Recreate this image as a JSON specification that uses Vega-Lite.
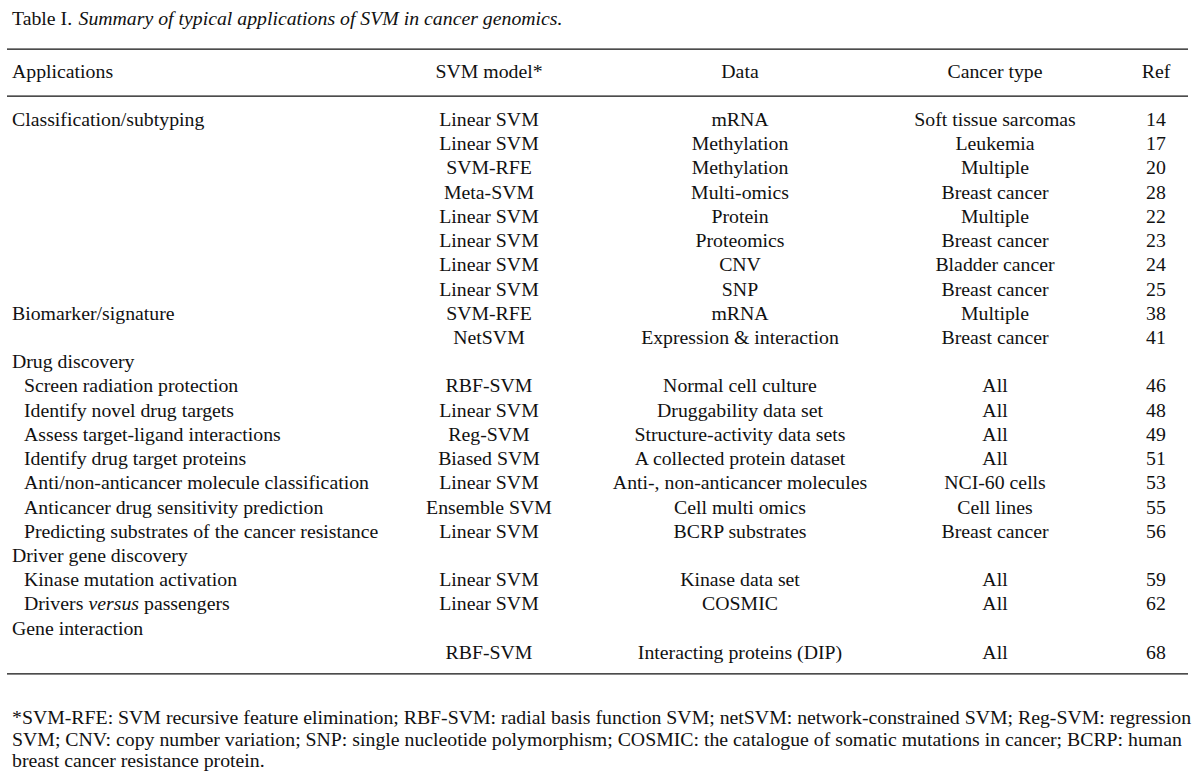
{
  "$schema": "https://vega.github.io/schema/vega-lite/v6.json",
  "width": 1200,
  "height": 774,
  "padding": 0,
  "autosize": "none",
  "background": "white",
  "config": {
    "view": {"stroke": null},
    "text": {"font": "Liberation Serif", "fontSize": 19.8, "color": "#111111", "baseline": "middle"}
  },
  "datasets": {
    "rows": [
      {"row": -2, "level": "main", "application": "Applications", "model": "SVM model*", "data": "Data", "cancer": "Cancer type", "ref": "Ref"},
      {"row": 0, "level": "main", "application": "Classification/subtyping", "model": "Linear SVM", "data": "mRNA", "cancer": "Soft tissue sarcomas", "ref": "14"},
      {"row": 1, "level": "main", "application": "", "model": "Linear SVM", "data": "Methylation", "cancer": "Leukemia", "ref": "17"},
      {"row": 2, "level": "main", "application": "", "model": "SVM-RFE", "data": "Methylation", "cancer": "Multiple", "ref": "20"},
      {"row": 3, "level": "main", "application": "", "model": "Meta-SVM", "data": "Multi-omics", "cancer": "Breast cancer", "ref": "28"},
      {"row": 4, "level": "main", "application": "", "model": "Linear SVM", "data": "Protein", "cancer": "Multiple", "ref": "22"},
      {"row": 5, "level": "main", "application": "", "model": "Linear SVM", "data": "Proteomics", "cancer": "Breast cancer", "ref": "23"},
      {"row": 6, "level": "main", "application": "", "model": "Linear SVM", "data": "CNV", "cancer": "Bladder cancer", "ref": "24"},
      {"row": 7, "level": "main", "application": "", "model": "Linear SVM", "data": "SNP", "cancer": "Breast cancer", "ref": "25"},
      {"row": 8, "level": "main", "application": "Biomarker/signature", "model": "SVM-RFE", "data": "mRNA", "cancer": "Multiple", "ref": "38"},
      {"row": 9, "level": "main", "application": "", "model": "NetSVM", "data": "Expression & interaction", "cancer": "Breast cancer", "ref": "41"},
      {"row": 10, "level": "main", "application": "Drug discovery", "model": "", "data": "", "cancer": "", "ref": ""},
      {"row": 11, "level": "sub", "application": "Screen radiation protection", "model": "RBF-SVM", "data": "Normal cell culture", "cancer": "All", "ref": "46"},
      {"row": 12, "level": "sub", "application": "Identify novel drug targets", "model": "Linear SVM", "data": "Druggability data set", "cancer": "All", "ref": "48"},
      {"row": 13, "level": "sub", "application": "Assess target-ligand interactions", "model": "Reg-SVM", "data": "Structure-activity data sets", "cancer": "All", "ref": "49"},
      {"row": 14, "level": "sub", "application": "Identify drug target proteins", "model": "Biased SVM", "data": "A collected protein dataset", "cancer": "All", "ref": "51"},
      {"row": 15, "level": "sub", "application": "Anti/non-anticancer molecule classification", "model": "Linear SVM", "data": "Anti-, non-anticancer molecules", "cancer": "NCI-60 cells", "ref": "53"},
      {"row": 16, "level": "sub", "application": "Anticancer drug sensitivity prediction", "model": "Ensemble SVM", "data": "Cell multi omics", "cancer": "Cell lines", "ref": "55"},
      {"row": 17, "level": "sub", "application": "Predicting substrates of the cancer resistance", "model": "Linear SVM", "data": "BCRP substrates", "cancer": "Breast cancer", "ref": "56"},
      {"row": 18, "level": "main", "application": "Driver gene discovery", "model": "", "data": "", "cancer": "", "ref": ""},
      {"row": 19, "level": "sub", "application": "Kinase mutation activation", "model": "Linear SVM", "data": "Kinase data set", "cancer": "All", "ref": "59"},
      {"row": 20, "level": "mixed", "application": "Drivers versus passengers", "model": "Linear SVM", "data": "COSMIC", "cancer": "All", "ref": "62"},
      {"row": 21, "level": "main", "application": "Gene interaction", "model": "", "data": "", "cancer": "", "ref": ""},
      {"row": 22, "level": "main", "application": "", "model": "RBF-SVM", "data": "Interacting proteins (DIP)", "cancer": "All", "ref": "68"}
    ],
    "rules": [{"line": -2.93}, {"line": -0.99}, {"line": 22.87}],
    "notes": [
      {"text": "*SVM-RFE: SVM recursive feature elimination; RBF-SVM: radial basis function SVM; netSVM: network-constrained SVM; Reg-SVM: regression\nSVM; CNV: copy number variation; SNP: single nucleotide polymorphism; COSMIC: the catalogue of somatic mutations in cancer; BCRP: human\nbreast cancer resistance protein."}
    ]
  },
  "layer": [
    {
      "data": {"name": "rules"},
      "mark": {"type": "rule", "color": "#111111", "strokeWidth": 1.3},
      "encoding": {
        "x": {"datum": 0, "type": "quantitative", "axis": null, "scale": {"type": "linear", "domain": [0, 1, 2, 3, 4, 5, 6], "range": [7, 12, 489, 740, 995, 1156, 1188], "nice": false, "zero": false, "clamp": false}},
        "x2": {"datum": 6},
        "y": {"field": "line", "type": "quantitative", "axis": null, "scale": {"domain": [-4.955, 27.0], "range": [0, 774], "nice": false, "zero": false}}
      }
    },
    {
      "data": {"name": "rows"},
      "transform": [{"filter": "datum.level == 'main'"}],
      "mark": {"type": "text", "align": "left"},
      "encoding": {
        "x": {"datum": 1, "type": "quantitative"},
        "y": {"field": "row", "type": "quantitative"},
        "text": {"field": "application"}
      }
    },
    {
      "data": {"name": "rows"},
      "transform": [{"filter": "datum.level == 'sub'"}],
      "mark": {"type": "text", "align": "left", "dx": 12},
      "encoding": {
        "x": {"datum": 1, "type": "quantitative"},
        "y": {"field": "row", "type": "quantitative"},
        "text": {"field": "application"}
      }
    },
    {
      "data": {"name": "rows"},
      "transform": [{"filter": "datum.level == 'mixed'"}],
      "mark": {"type": "text", "align": "left", "dx": 12},
      "encoding": {
        "x": {"datum": 1, "type": "quantitative"},
        "y": {"field": "row", "type": "quantitative"},
        "text": {"value": "Drivers"}
      }
    },
    {
      "data": {"name": "rows"},
      "transform": [{"filter": "datum.level == 'mixed'"}],
      "mark": {"type": "text", "align": "left", "dx": 76.5, "fontStyle": "italic"},
      "encoding": {
        "x": {"datum": 1, "type": "quantitative"},
        "y": {"field": "row", "type": "quantitative"},
        "text": {"value": "versus"}
      }
    },
    {
      "data": {"name": "rows"},
      "transform": [{"filter": "datum.level == 'mixed'"}],
      "mark": {"type": "text", "align": "left", "dx": 132},
      "encoding": {
        "x": {"datum": 1, "type": "quantitative"},
        "y": {"field": "row", "type": "quantitative"},
        "text": {"value": "passengers"}
      }
    },
    {
      "data": {"name": "rows"},
      "mark": {"type": "text", "align": "center"},
      "encoding": {
        "x": {"datum": 2, "type": "quantitative"},
        "y": {"field": "row", "type": "quantitative"},
        "text": {"field": "model"}
      }
    },
    {
      "data": {"name": "rows"},
      "mark": {"type": "text", "align": "center"},
      "encoding": {
        "x": {"datum": 3, "type": "quantitative"},
        "y": {"field": "row", "type": "quantitative"},
        "text": {"field": "data"}
      }
    },
    {
      "data": {"name": "rows"},
      "mark": {"type": "text", "align": "center"},
      "encoding": {
        "x": {"datum": 4, "type": "quantitative"},
        "y": {"field": "row", "type": "quantitative"},
        "text": {"field": "cancer"}
      }
    },
    {
      "data": {"name": "rows"},
      "mark": {"type": "text", "align": "center"},
      "encoding": {
        "x": {"datum": 5, "type": "quantitative"},
        "y": {"field": "row", "type": "quantitative"},
        "text": {"field": "ref"}
      }
    },
    {
      "data": {"values": [{"label": "Table I."}]},
      "mark": {"type": "text", "align": "left"},
      "encoding": {
        "x": {"datum": 1, "type": "quantitative"},
        "y": {"datum": -4.17, "type": "quantitative"},
        "text": {"field": "label"}
      }
    },
    {
      "data": {"values": [{"label": "Summary of typical applications of SVM in cancer genomics."}]},
      "mark": {"type": "text", "align": "left", "fontStyle": "italic", "dx": 66.5},
      "encoding": {
        "x": {"datum": 1, "type": "quantitative"},
        "y": {"datum": -4.17, "type": "quantitative"},
        "text": {"field": "label"}
      }
    },
    {
      "data": {"name": "notes"},
      "mark": {"type": "text", "align": "left", "fontSize": 19.8, "lineBreak": "\n", "lineHeight": 21.5},
      "encoding": {
        "x": {"datum": 1, "type": "quantitative"},
        "y": {"datum": 24.69, "type": "quantitative"},
        "text": {"field": "text"}
      }
    }
  ]
}
